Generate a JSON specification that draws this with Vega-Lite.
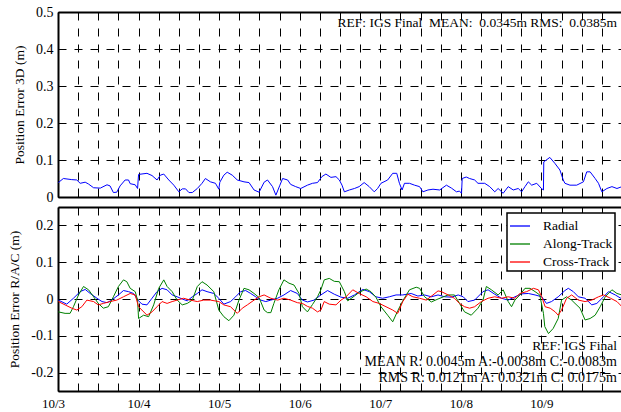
{
  "$schema": "https://vega.github.io/schema/vega-lite/v6.json",
  "background": "white",
  "padding": {"left": 7, "top": 5, "right": 0, "bottom": 2},
  "config": {
    "font": "Liberation Serif",
    "view": {"stroke": null},
    "axis": {
      "labelFont": "Liberation Serif", "titleFont": "Liberation Serif",
      "labelColor": "black", "titleColor": "black", "titleFontWeight": "normal",
      "gridColor": "black", "gridDash": [8, 8], "gridOpacity": 1, "gridWidth": 1,
      "tickColor": "black", "domainColor": "black", "domainWidth": 2,
      "labelFlush": false, "labelOverlap": false, "labelBound": false
    },
    "legend": {"labelFont": "Liberation Serif", "strokeWidth": 1.5},
    "text": {"font": "Liberation Serif"},
    "concat": {"spacing": 10}
  },
  "datasets": {
    "d3": [
      {"h":0.1,"v":0.039},{"h":1.6,"v":0.050},{"h":4.1,"v":0.047},{"h":5.6,"v":0.046},{"h":6.6,"v":0.037},{"h":8.1,"v":0.040},{"h":9.1,"v":0.035},{"h":10.6,"v":0.025},{"h":12.6,"v":0.024},{"h":14.6,"v":0.033},{"h":15.5,"v":0.030},{"h":16.5,"v":0.012},{"h":17.5,"v":0.013},{"h":18.5,"v":0.030},{"h":20.0,"v":0.046},{"h":21.0,"v":0.046},{"h":21.5,"v":0.036},{"h":23.0,"v":0.033},{"h":23.7,"v":0.023},{"h":24.0,"v":0.061},{"h":26.5,"v":0.064},{"h":28.0,"v":0.058},{"h":29.5,"v":0.046},{"h":30.5,"v":0.059},{"h":31.5,"v":0.062},{"h":33.0,"v":0.046},{"h":34.5,"v":0.032},{"h":36.0,"v":0.014},{"h":37.0,"v":0.022},{"h":38.0,"v":0.022},{"h":39.0,"v":0.012},{"h":40.0,"v":0.012},{"h":41.5,"v":0.023},{"h":42.9,"v":0.037},{"h":43.9,"v":0.050},{"h":45.4,"v":0.041},{"h":46.9,"v":0.037},{"h":47.9,"v":0.021},{"h":48.2,"v":0.040},{"h":49.4,"v":0.059},{"h":50.4,"v":0.067},{"h":51.9,"v":0.059},{"h":53.4,"v":0.046},{"h":55.4,"v":0.041},{"h":56.9,"v":0.039},{"h":58.4,"v":0.019},{"h":59.9,"v":0.013},{"h":61.4,"v":0.040},{"h":62.4,"v":0.046},{"h":63.9,"v":0.028},{"h":64.9,"v":0.005},{"h":66.1,"v":0.032},{"h":66.9,"v":0.050},{"h":68.4,"v":0.046},{"h":69.3,"v":0.034},{"h":70.8,"v":0.028},{"h":72.3,"v":0.023},{"h":74.3,"v":0.032},{"h":75.8,"v":0.037},{"h":77.3,"v":0.039},{"h":78.6,"v":0.055},{"h":79.8,"v":0.062},{"h":81.3,"v":0.053},{"h":82.8,"v":0.055},{"h":83.8,"v":0.046},{"h":84.6,"v":0.032},{"h":85.3,"v":0.014},{"h":86.8,"v":0.019},{"h":88.3,"v":0.023},{"h":89.7,"v":0.028},{"h":91.2,"v":0.039},{"h":92.7,"v":0.028},{"h":94.2,"v":0.014},{"h":95.2,"v":0.023},{"h":96.2,"v":0.037},{"h":98.2,"v":0.046},{"h":99.7,"v":0.064},{"h":100.9,"v":0.064},{"h":101.7,"v":0.037},{"h":102.5,"v":0.019},{"h":103.2,"v":0.037},{"h":104.7,"v":0.037},{"h":106.2,"v":0.032},{"h":107.7,"v":0.028},{"h":108.7,"v":0.014},{"h":110.2,"v":0.019},{"h":111.7,"v":0.021},{"h":113.7,"v":0.019},{"h":115.7,"v":0.032},{"h":117.2,"v":0.024},{"h":118.7,"v":0.014},{"h":119.6,"v":0.016},{"h":120.2,"v":0.010},{"h":120.4,"v":0.050},{"h":121.6,"v":0.054},{"h":122.6,"v":0.050},{"h":124.1,"v":0.046},{"h":125.1,"v":0.037},{"h":127.1,"v":0.037},{"h":128.6,"v":0.028},{"h":130.1,"v":0.014},{"h":131.1,"v":0.023},{"h":132.6,"v":0.010},{"h":134.1,"v":0.028},{"h":135.6,"v":0.019},{"h":137.1,"v":0.023},{"h":138.1,"v":0.014},{"h":139.1,"v":0.028},{"h":140.1,"v":0.041},{"h":141.1,"v":0.032},{"h":142.6,"v":0.037},{"h":144.0,"v":0.023},{"h":144.6,"v":0.019},{"h":144.7,"v":0.095},{"h":146.5,"v":0.107},{"h":148.0,"v":0.091},{"h":149.5,"v":0.073},{"h":150.5,"v":0.046},{"h":151.0,"v":0.037},{"h":152.5,"v":0.032},{"h":154.5,"v":0.032},{"h":156.5,"v":0.041},{"h":157.5,"v":0.068},{"h":158.5,"v":0.068},{"h":160.0,"v":0.050},{"h":161.0,"v":0.037},{"h":162.0,"v":0.014},{"h":163.5,"v":0.023},{"h":165.0,"v":0.028},{"h":166.5,"v":0.023},{"h":168.0,"v":0.028}
    ],
    "rac": [
      {"h":0.1,"v":-0.003,"c":"Radial"},{"h":2.6,"v":-0.014,"c":"Radial"},{"h":4.6,"v":0.002,"c":"Radial"},{"h":6.6,"v":0.020,"c":"Radial"},{"h":8.1,"v":0.026,"c":"Radial"},{"h":9.6,"v":0.015,"c":"Radial"},{"h":11.6,"v":0.002,"c":"Radial"},{"h":13.1,"v":-0.007,"c":"Radial"},{"h":14.6,"v":-0.010,"c":"Radial"},{"h":16.0,"v":-0.003,"c":"Radial"},{"h":18.0,"v":0.011,"c":"Radial"},{"h":19.5,"v":0.023,"c":"Radial"},{"h":21.0,"v":0.020,"c":"Radial"},{"h":22.5,"v":0.015,"c":"Radial"},{"h":23.8,"v":-0.003,"c":"Radial"},{"h":25.0,"v":-0.014,"c":"Radial"},{"h":26.5,"v":-0.016,"c":"Radial"},{"h":28.0,"v":0.002,"c":"Radial"},{"h":29.5,"v":0.020,"c":"Radial"},{"h":31.0,"v":0.029,"c":"Radial"},{"h":32.5,"v":0.025,"c":"Radial"},{"h":34.0,"v":0.011,"c":"Radial"},{"h":35.5,"v":0.006,"c":"Radial"},{"h":37.0,"v":0.000,"c":"Radial"},{"h":38.5,"v":-0.005,"c":"Radial"},{"h":40.0,"v":0.006,"c":"Radial"},{"h":41.5,"v":0.015,"c":"Radial"},{"h":42.9,"v":0.025,"c":"Radial"},{"h":44.4,"v":0.020,"c":"Radial"},{"h":46.4,"v":0.015,"c":"Radial"},{"h":47.9,"v":0.002,"c":"Radial"},{"h":49.4,"v":-0.014,"c":"Radial"},{"h":51.4,"v":-0.007,"c":"Radial"},{"h":52.9,"v":0.006,"c":"Radial"},{"h":54.4,"v":0.020,"c":"Radial"},{"h":55.9,"v":0.023,"c":"Radial"},{"h":57.4,"v":0.015,"c":"Radial"},{"h":58.9,"v":0.006,"c":"Radial"},{"h":60.4,"v":-0.003,"c":"Radial"},{"h":61.9,"v":-0.007,"c":"Radial"},{"h":63.4,"v":-0.003,"c":"Radial"},{"h":65.4,"v":0.002,"c":"Radial"},{"h":67.3,"v":0.011,"c":"Radial"},{"h":69.3,"v":0.023,"c":"Radial"},{"h":71.3,"v":0.015,"c":"Radial"},{"h":72.8,"v":-0.003,"c":"Radial"},{"h":74.3,"v":-0.008,"c":"Radial"},{"h":76.3,"v":-0.003,"c":"Radial"},{"h":78.3,"v":0.011,"c":"Radial"},{"h":80.3,"v":0.023,"c":"Radial"},{"h":82.3,"v":0.013,"c":"Radial"},{"h":84.3,"v":0.005,"c":"Radial"},{"h":86.3,"v":0.002,"c":"Radial"},{"h":88.3,"v":0.011,"c":"Radial"},{"h":90.8,"v":0.026,"c":"Radial"},{"h":92.7,"v":0.020,"c":"Radial"},{"h":94.7,"v":0.006,"c":"Radial"},{"h":96.7,"v":0.002,"c":"Radial"},{"h":98.7,"v":0.006,"c":"Radial"},{"h":100.7,"v":0.011,"c":"Radial"},{"h":102.7,"v":0.011,"c":"Radial"},{"h":105.2,"v":0.015,"c":"Radial"},{"h":107.2,"v":0.008,"c":"Radial"},{"h":109.2,"v":0.011,"c":"Radial"},{"h":111.2,"v":0.006,"c":"Radial"},{"h":113.2,"v":0.011,"c":"Radial"},{"h":115.2,"v":0.006,"c":"Radial"},{"h":117.2,"v":0.005,"c":"Radial"},{"h":119.2,"v":0.011,"c":"Radial"},{"h":120.7,"v":0.006,"c":"Radial"},{"h":122.1,"v":-0.007,"c":"Radial"},{"h":124.1,"v":-0.003,"c":"Radial"},{"h":126.6,"v":0.020,"c":"Radial"},{"h":128.1,"v":0.025,"c":"Radial"},{"h":130.1,"v":0.013,"c":"Radial"},{"h":132.1,"v":0.002,"c":"Radial"},{"h":134.1,"v":-0.003,"c":"Radial"},{"h":136.1,"v":0.006,"c":"Radial"},{"h":138.1,"v":0.014,"c":"Radial"},{"h":140.1,"v":0.015,"c":"Radial"},{"h":142.1,"v":0.011,"c":"Radial"},{"h":144.1,"v":0.006,"c":"Radial"},{"h":145.5,"v":-0.012,"c":"Radial"},{"h":147.0,"v":-0.007,"c":"Radial"},{"h":149.0,"v":0.006,"c":"Radial"},{"h":151.0,"v":0.023,"c":"Radial"},{"h":152.0,"v":0.029,"c":"Radial"},{"h":153.5,"v":0.020,"c":"Radial"},{"h":155.0,"v":0.006,"c":"Radial"},{"h":157.0,"v":0.002,"c":"Radial"},{"h":159.0,"v":-0.016,"c":"Radial"},{"h":160.5,"v":-0.012,"c":"Radial"},{"h":162.5,"v":0.006,"c":"Radial"},{"h":164.0,"v":0.020,"c":"Radial"},{"h":166.0,"v":0.011,"c":"Radial"},{"h":168.0,"v":0.000,"c":"Radial"},
      {"h":0.1,"v":-0.035,"c":"Along-Track"},{"h":2.1,"v":-0.039,"c":"Along-Track"},{"h":3.6,"v":-0.039,"c":"Along-Track"},{"h":4.6,"v":-0.021,"c":"Along-Track"},{"h":6.1,"v":0.011,"c":"Along-Track"},{"h":7.6,"v":0.034,"c":"Along-Track"},{"h":9.1,"v":0.025,"c":"Along-Track"},{"h":10.6,"v":0.006,"c":"Along-Track"},{"h":12.0,"v":-0.012,"c":"Along-Track"},{"h":13.5,"v":-0.025,"c":"Along-Track"},{"h":15.0,"v":-0.021,"c":"Along-Track"},{"h":16.5,"v":0.006,"c":"Along-Track"},{"h":18.0,"v":0.034,"c":"Along-Track"},{"h":19.5,"v":0.052,"c":"Along-Track"},{"h":20.5,"v":0.047,"c":"Along-Track"},{"h":21.5,"v":0.029,"c":"Along-Track"},{"h":23.0,"v":0.020,"c":"Along-Track"},{"h":23.7,"v":-0.003,"c":"Along-Track"},{"h":24.0,"v":-0.053,"c":"Along-Track"},{"h":25.5,"v":-0.044,"c":"Along-Track"},{"h":27.0,"v":-0.048,"c":"Along-Track"},{"h":28.5,"v":-0.016,"c":"Along-Track"},{"h":30.0,"v":0.029,"c":"Along-Track"},{"h":31.5,"v":0.052,"c":"Along-Track"},{"h":32.5,"v":0.034,"c":"Along-Track"},{"h":34.0,"v":0.020,"c":"Along-Track"},{"h":35.5,"v":-0.003,"c":"Along-Track"},{"h":37.0,"v":-0.016,"c":"Along-Track"},{"h":38.5,"v":-0.012,"c":"Along-Track"},{"h":40.0,"v":-0.003,"c":"Along-Track"},{"h":41.5,"v":0.034,"c":"Along-Track"},{"h":42.9,"v":0.047,"c":"Along-Track"},{"h":44.4,"v":0.038,"c":"Along-Track"},{"h":46.4,"v":0.020,"c":"Along-Track"},{"h":47.9,"v":-0.030,"c":"Along-Track"},{"h":49.4,"v":-0.048,"c":"Along-Track"},{"h":50.9,"v":-0.059,"c":"Along-Track"},{"h":52.4,"v":-0.044,"c":"Along-Track"},{"h":53.9,"v":-0.003,"c":"Along-Track"},{"h":55.4,"v":0.029,"c":"Along-Track"},{"h":56.9,"v":0.025,"c":"Along-Track"},{"h":58.4,"v":0.015,"c":"Along-Track"},{"h":59.9,"v":0.004,"c":"Along-Track"},{"h":61.4,"v":-0.030,"c":"Along-Track"},{"h":62.4,"v":-0.037,"c":"Along-Track"},{"h":63.4,"v":-0.037,"c":"Along-Track"},{"h":64.3,"v":-0.012,"c":"Along-Track"},{"h":65.8,"v":0.025,"c":"Along-Track"},{"h":67.3,"v":0.052,"c":"Along-Track"},{"h":68.8,"v":0.043,"c":"Along-Track"},{"h":70.3,"v":0.038,"c":"Along-Track"},{"h":71.8,"v":0.015,"c":"Along-Track"},{"h":72.8,"v":-0.021,"c":"Along-Track"},{"h":74.3,"v":-0.035,"c":"Along-Track"},{"h":75.8,"v":-0.015,"c":"Along-Track"},{"h":77.3,"v":0.006,"c":"Along-Track"},{"h":78.3,"v":0.025,"c":"Along-Track"},{"h":79.3,"v":0.052,"c":"Along-Track"},{"h":80.8,"v":0.056,"c":"Along-Track"},{"h":82.3,"v":0.048,"c":"Along-Track"},{"h":83.8,"v":0.047,"c":"Along-Track"},{"h":85.3,"v":0.020,"c":"Along-Track"},{"h":86.3,"v":-0.005,"c":"Along-Track"},{"h":88.3,"v":0.008,"c":"Along-Track"},{"h":89.7,"v":0.018,"c":"Along-Track"},{"h":91.8,"v":0.027,"c":"Along-Track"},{"h":93.2,"v":0.020,"c":"Along-Track"},{"h":94.7,"v":0.005,"c":"Along-Track"},{"h":96.2,"v":-0.021,"c":"Along-Track"},{"h":98.2,"v":-0.044,"c":"Along-Track"},{"h":99.7,"v":-0.062,"c":"Along-Track"},{"h":101.2,"v":-0.032,"c":"Along-Track"},{"h":102.7,"v":-0.005,"c":"Along-Track"},{"h":104.7,"v":0.025,"c":"Along-Track"},{"h":106.7,"v":0.032,"c":"Along-Track"},{"h":107.7,"v":0.029,"c":"Along-Track"},{"h":109.2,"v":0.006,"c":"Along-Track"},{"h":111.2,"v":-0.008,"c":"Along-Track"},{"h":113.2,"v":0.000,"c":"Along-Track"},{"h":116.2,"v":0.011,"c":"Along-Track"},{"h":118.1,"v":0.011,"c":"Along-Track"},{"h":119.6,"v":-0.012,"c":"Along-Track"},{"h":121.1,"v":-0.035,"c":"Along-Track"},{"h":123.1,"v":-0.044,"c":"Along-Track"},{"h":125.1,"v":-0.025,"c":"Along-Track"},{"h":126.6,"v":-0.003,"c":"Along-Track"},{"h":127.6,"v":0.034,"c":"Along-Track"},{"h":129.1,"v":0.025,"c":"Along-Track"},{"h":131.1,"v":0.011,"c":"Along-Track"},{"h":132.6,"v":0.025,"c":"Along-Track"},{"h":134.1,"v":-0.007,"c":"Along-Track"},{"h":135.1,"v":-0.021,"c":"Along-Track"},{"h":136.1,"v":-0.003,"c":"Along-Track"},{"h":137.6,"v":0.011,"c":"Along-Track"},{"h":139.1,"v":0.029,"c":"Along-Track"},{"h":140.6,"v":0.029,"c":"Along-Track"},{"h":142.1,"v":0.020,"c":"Along-Track"},{"h":143.5,"v":0.011,"c":"Along-Track"},{"h":144.6,"v":-0.039,"c":"Along-Track"},{"h":145.0,"v":-0.075,"c":"Along-Track"},{"h":146.1,"v":-0.094,"c":"Along-Track"},{"h":147.5,"v":-0.080,"c":"Along-Track"},{"h":149.0,"v":-0.053,"c":"Along-Track"},{"h":150.0,"v":-0.003,"c":"Along-Track"},{"h":151.5,"v":0.006,"c":"Along-Track"},{"h":153.0,"v":-0.003,"c":"Along-Track"},{"h":154.0,"v":-0.012,"c":"Along-Track"},{"h":155.5,"v":-0.025,"c":"Along-Track"},{"h":157.0,"v":-0.057,"c":"Along-Track"},{"h":158.5,"v":-0.053,"c":"Along-Track"},{"h":160.0,"v":-0.044,"c":"Along-Track"},{"h":161.5,"v":-0.021,"c":"Along-Track"},{"h":163.0,"v":0.006,"c":"Along-Track"},{"h":165.0,"v":0.025,"c":"Along-Track"},{"h":166.5,"v":0.015,"c":"Along-Track"},{"h":168.0,"v":0.011,"c":"Along-Track"},
      {"h":0.1,"v":-0.007,"c":"Cross-Track"},{"h":2.1,"v":-0.016,"c":"Cross-Track"},{"h":4.1,"v":-0.025,"c":"Cross-Track"},{"h":5.6,"v":-0.030,"c":"Cross-Track"},{"h":7.1,"v":-0.021,"c":"Cross-Track"},{"h":8.6,"v":-0.003,"c":"Cross-Track"},{"h":10.6,"v":-0.007,"c":"Cross-Track"},{"h":12.0,"v":-0.016,"c":"Cross-Track"},{"h":13.5,"v":-0.012,"c":"Cross-Track"},{"h":15.5,"v":-0.007,"c":"Cross-Track"},{"h":17.5,"v":-0.003,"c":"Cross-Track"},{"h":19.5,"v":0.006,"c":"Cross-Track"},{"h":21.5,"v":0.015,"c":"Cross-Track"},{"h":23.0,"v":0.011,"c":"Cross-Track"},{"h":24.0,"v":-0.021,"c":"Cross-Track"},{"h":25.0,"v":-0.030,"c":"Cross-Track"},{"h":26.5,"v":-0.044,"c":"Cross-Track"},{"h":28.0,"v":-0.035,"c":"Cross-Track"},{"h":29.5,"v":-0.021,"c":"Cross-Track"},{"h":31.0,"v":-0.007,"c":"Cross-Track"},{"h":32.5,"v":-0.012,"c":"Cross-Track"},{"h":34.0,"v":-0.007,"c":"Cross-Track"},{"h":35.5,"v":-0.003,"c":"Cross-Track"},{"h":37.4,"v":0.002,"c":"Cross-Track"},{"h":39.4,"v":-0.003,"c":"Cross-Track"},{"h":41.5,"v":-0.007,"c":"Cross-Track"},{"h":43.4,"v":-0.003,"c":"Cross-Track"},{"h":45.4,"v":-0.003,"c":"Cross-Track"},{"h":47.9,"v":-0.007,"c":"Cross-Track"},{"h":49.4,"v":-0.016,"c":"Cross-Track"},{"h":51.4,"v":-0.021,"c":"Cross-Track"},{"h":53.4,"v":-0.039,"c":"Cross-Track"},{"h":54.9,"v":-0.025,"c":"Cross-Track"},{"h":56.4,"v":-0.016,"c":"Cross-Track"},{"h":58.4,"v":-0.003,"c":"Cross-Track"},{"h":59.9,"v":0.006,"c":"Cross-Track"},{"h":61.4,"v":0.011,"c":"Cross-Track"},{"h":63.4,"v":0.002,"c":"Cross-Track"},{"h":65.4,"v":-0.003,"c":"Cross-Track"},{"h":67.3,"v":0.002,"c":"Cross-Track"},{"h":69.3,"v":-0.003,"c":"Cross-Track"},{"h":71.3,"v":-0.010,"c":"Cross-Track"},{"h":72.8,"v":-0.012,"c":"Cross-Track"},{"h":74.3,"v":-0.020,"c":"Cross-Track"},{"h":75.8,"v":-0.025,"c":"Cross-Track"},{"h":77.3,"v":-0.035,"c":"Cross-Track"},{"h":78.3,"v":-0.030,"c":"Cross-Track"},{"h":79.3,"v":-0.007,"c":"Cross-Track"},{"h":80.8,"v":-0.014,"c":"Cross-Track"},{"h":82.8,"v":-0.016,"c":"Cross-Track"},{"h":84.3,"v":-0.003,"c":"Cross-Track"},{"h":85.8,"v":0.006,"c":"Cross-Track"},{"h":87.8,"v":0.025,"c":"Cross-Track"},{"h":89.7,"v":0.015,"c":"Cross-Track"},{"h":91.8,"v":0.006,"c":"Cross-Track"},{"h":93.8,"v":-0.007,"c":"Cross-Track"},{"h":95.7,"v":-0.012,"c":"Cross-Track"},{"h":97.7,"v":-0.021,"c":"Cross-Track"},{"h":99.7,"v":-0.030,"c":"Cross-Track"},{"h":101.2,"v":-0.039,"c":"Cross-Track"},{"h":102.7,"v":-0.007,"c":"Cross-Track"},{"h":104.2,"v":0.013,"c":"Cross-Track"},{"h":105.7,"v":0.006,"c":"Cross-Track"},{"h":107.7,"v":0.002,"c":"Cross-Track"},{"h":109.7,"v":-0.003,"c":"Cross-Track"},{"h":111.7,"v":0.011,"c":"Cross-Track"},{"h":113.2,"v":0.022,"c":"Cross-Track"},{"h":114.2,"v":0.020,"c":"Cross-Track"},{"h":116.2,"v":0.011,"c":"Cross-Track"},{"h":118.1,"v":0.002,"c":"Cross-Track"},{"h":119.6,"v":-0.012,"c":"Cross-Track"},{"h":121.1,"v":-0.021,"c":"Cross-Track"},{"h":122.6,"v":-0.025,"c":"Cross-Track"},{"h":124.1,"v":-0.021,"c":"Cross-Track"},{"h":126.1,"v":-0.007,"c":"Cross-Track"},{"h":128.1,"v":0.002,"c":"Cross-Track"},{"h":130.1,"v":0.006,"c":"Cross-Track"},{"h":132.1,"v":0.002,"c":"Cross-Track"},{"h":134.1,"v":0.006,"c":"Cross-Track"},{"h":136.1,"v":0.002,"c":"Cross-Track"},{"h":137.6,"v":0.015,"c":"Cross-Track"},{"h":139.6,"v":0.020,"c":"Cross-Track"},{"h":141.6,"v":0.029,"c":"Cross-Track"},{"h":143.1,"v":0.025,"c":"Cross-Track"},{"h":144.1,"v":0.006,"c":"Cross-Track"},{"h":145.1,"v":-0.021,"c":"Cross-Track"},{"h":146.6,"v":-0.025,"c":"Cross-Track"},{"h":148.1,"v":-0.035,"c":"Cross-Track"},{"h":149.0,"v":-0.044,"c":"Cross-Track"},{"h":150.0,"v":-0.030,"c":"Cross-Track"},{"h":151.5,"v":0.002,"c":"Cross-Track"},{"h":153.0,"v":0.011,"c":"Cross-Track"},{"h":155.0,"v":-0.003,"c":"Cross-Track"},{"h":157.0,"v":-0.007,"c":"Cross-Track"},{"h":159.0,"v":-0.003,"c":"Cross-Track"},{"h":161.0,"v":0.006,"c":"Cross-Track"},{"h":162.5,"v":0.011,"c":"Cross-Track"},{"h":164.6,"v":0.002,"c":"Cross-Track"},{"h":166.5,"v":-0.007,"c":"Cross-Track"},{"h":168.0,"v":-0.021,"c":"Cross-Track"}
    ],
    "annTop": [
      {"h": 166.5, "v": 0.47, "t": "REF: IGS Final\u00a0 MEAN:\u00a0 0.0345m RMS:\u00a0 0.0385m"}
    ],
    "annBot": [
      {"h": 166.5, "v": -0.127, "t": "REF: IGS Final"},
      {"h": 166.5, "v": -0.172, "t": "MEAN R: 0.0045m A:-0.0038m C:-0.0083m"},
      {"h": 166.5, "v": -0.2155, "t": "RMS R: 0.0121m A: 0.0321m C: 0.0175m"}
    ]
  },
  "bounds": "flush",
  "vconcat": [
    {
      "width": 564,
      "height": 185,
      "layer": [
        {
          "data": {"name": "d3"},
          "mark": {"type": "line", "color": "#0000ff", "strokeWidth": 1, "clip": true},
          "encoding": {
            "x": {"field": "h", "type": "quantitative",
              "scale": {"domain": [0, 168], "nice": false, "zero": false},
              "axis": {"orient": "bottom", "title": null, "labels": false,
                "values": [0,6,12,18,24,30,36,42,48,54,60,66,72,78,84,90,96,102,108,114,120,126,132,138,144,150,156,162],
                "ticks": true, "tickSize": -5, "grid": true, "domain": true}},
            "y": {"field": "v", "type": "quantitative", "title": "Position Error 3D (m)",
              "scale": {"domain": [0, 0.5], "nice": false, "zero": false},
              "axis": {"values": [0, 0.1, 0.2, 0.3, 0.4, 0.5], "labelExpr": "datum.value + ''",
                "labelOverlap": false, "labelFlush": false, "labelBound": false,
                "labelFont": "Liberation Serif", "titleFont": "Liberation Serif",
                "grid": true, "ticks": true, "tickSize": -5, "labelPadding": 10, "labelFontSize": 14,
                "titleFontSize": 13.5, "titlePadding": 9, "domain": true}}
          }
        },
        {
          "data": {"name": "annTop"},
          "mark": {"type": "text", "align": "right", "baseline": "middle", "fontSize": 13.5, "font": "Liberation Serif", "color": "black"},
          "encoding": {
            "x": {"field": "h", "type": "quantitative",
              "axis": {"orient": "top", "title": null, "labels": false,
                "values": [6,12,18,24,30,36,42,48,54,60,66,72,78,84,90,96,102,108,114,120,126,132,138,144,150,156,162],
                "ticks": true, "tickSize": -5, "grid": false, "domain": true}},
            "y": {"field": "v", "type": "quantitative", "title": "Position Error 3D (m)",
              "axis": {"values": [0, 0.1, 0.2, 0.3, 0.4, 0.5], "labelExpr": "datum.value + ''",
                "labelOverlap": false, "labelFlush": false, "labelBound": false,
                "labelFont": "Liberation Serif", "titleFont": "Liberation Serif",
                "grid": true, "ticks": true, "tickSize": -5, "labelPadding": 10, "labelFontSize": 14,
                "titleFontSize": 13.5, "titlePadding": 9, "domain": true}},
            "text": {"field": "t"}
          }
        }
      ],
      "resolve": {"axis": {"x": "independent"}}
    },
    {
      "width": 564,
      "height": 184,
      "layer": [
        {
          "data": {"name": "rac"},
          "mark": {"type": "line", "strokeWidth": 1, "clip": true},
          "encoding": {
            "x": {"field": "h", "type": "quantitative",
              "scale": {"domain": [0, 168], "nice": false, "zero": false},
              "axis": {"orient": "bottom", "title": null,
                "values": [0,6,12,18,24,30,36,42,48,54,60,66,72,78,84,90,96,102,108,114,120,126,132,138,144,150,156,162],
                "labelExpr": "datum.value % 24 == 0 ? '10/' + (3 + datum.value / 24) : ''",
                "labelFont": "Liberation Serif", "labelFontSize": 13, "labelPadding": 11,
                "labelOffset": {"condition": {"test": "datum.value == 0", "value": -5}, "value": 0},
                "ticks": true, "tickSize": -5, "grid": true, "domain": true}},
            "y": {"field": "v", "type": "quantitative", "title": "Position Error R/A/C (m)",
              "scale": {"domain": [-0.25, 0.25], "nice": false, "zero": false},
              "axis": {"values": [-0.2, -0.1, 0, 0.1, 0.2], "labelExpr": "datum.value + ''",
                "labelOverlap": false, "labelFlush": false, "labelBound": false,
                "labelFont": "Liberation Serif", "titleFont": "Liberation Serif",
                "grid": true, "ticks": true, "tickSize": -5, "labelPadding": 10, "labelFontSize": 14,
                "titleFontSize": 13.5, "titlePadding": 9, "domain": true}},
            "color": {"field": "c", "type": "nominal",
              "scale": {"domain": ["Radial", "Along-Track", "Cross-Track"], "range": ["#0000ff", "#008000", "#ff0000"]},
              "legend": {"title": null, "orient": "none", "legendX": 449, "legendY": 6,
                "symbolSize": 400, "symbolStrokeWidth": 1.3,
                "labelFont": "Liberation Serif", "labelFontSize": 13.5, "labelColor": "black", "labelOffset": 12,
                "rowPadding": 0, "padding": 2, "strokeColor": "black",
                "fillColor": "white", "cornerRadius": 0}}
          }
        },
        {
          "data": {"name": "annBot"},
          "mark": {"type": "text", "align": "right", "baseline": "middle", "font": "Liberation Serif", "color": "black"},
          "encoding": {
            "x": {"field": "h", "type": "quantitative",
              "axis": {"orient": "top", "title": null, "labels": false,
                "values": [6,12,18,24,30,36,42,48,54,60,66,72,78,84,90,96,102,108,114,120,126,132,138,144,150,156,162],
                "ticks": true, "tickSize": -5, "grid": false, "domain": true}},
            "y": {"field": "v", "type": "quantitative", "title": "Position Error R/A/C (m)",
              "axis": {"values": [-0.2, -0.1, 0, 0.1, 0.2], "labelExpr": "datum.value + ''",
                "labelOverlap": false, "labelFlush": false, "labelBound": false,
                "labelFont": "Liberation Serif", "titleFont": "Liberation Serif",
                "grid": true, "ticks": true, "tickSize": -5, "labelPadding": 10, "labelFontSize": 14,
                "titleFontSize": 13.5, "titlePadding": 9, "domain": true}},
            "text": {"field": "t"},
            "size": {"condition": {"test": "datum.t == 'REF: IGS Final'", "value": 13.5}, "value": 14}
          }
        }
      ],
      "resolve": {"axis": {"x": "independent"}}
    }
  ],
  "resolve": {"scale": {"color": "independent"}, "legend": {"color": "independent"}}
}
